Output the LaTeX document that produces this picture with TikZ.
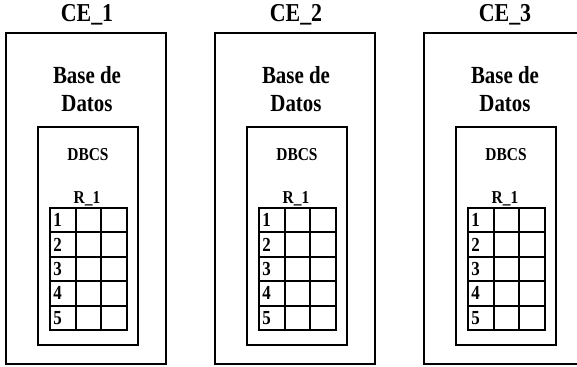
\documentclass[tikz,border=0pt]{standalone}
\usepackage{fontspec}
\setmainfont{Liberation Serif}
\newfontfamily\narrowserif[FakeStretch=0.85]{Liberation Serif}
\usetikzlibrary{positioning}

\begin{document}
\begin{tikzpicture}[
x=0.03cm, y=-0.03cm,
font=\narrowserif\bfseries,
cetitle/.style={font=\narrowserif\bfseries\fontsize{22}{24}\selectfont},
dbtext/.style={font=\narrowserif\bfseries\fontsize{21}{23.5}\selectfont, align=center},
smalltext/.style={font=\narrowserif\bfseries\fontsize{15.5}{17}\selectfont, inner sep=1pt},
digit/.style={font=\narrowserif\bfseries\fontsize{17}{18}\selectfont, inner sep=1pt, anchor=west},
site/.style={line width=1.1pt},
table/.style={line width=1.6pt}
]
    \useasboundingbox (0,0) rectangle (577,367);

    \foreach \i/\x in {1/6,2/215,3/424}{
    % Draw site box
    \node[cetitle] (ce\i) at (\x+81,15) {CE\_\i};
    \draw[site] (\x,33) rectangle (\x+160,364);
    \node[dbtext] (bd\i) at (\x+81,89) {Base de\\Datos};

    % Draw DBCS box
    \draw[site] (\x+32,127) rectangle (\x+132,345);
    \node[smalltext] (dbcs\i) at (\x+82,155) {DBCS};
    \node[smalltext] (r\i) at (\x+81,199) {R\_1};

    % Draw table
    \draw[table] (\x+44,208) rectangle (\x+121,330);
    \draw[table] (\x+70,208) -- (\x+70,330);
    \draw[table] (\x+95,208) -- (\x+95,330);
    \foreach \k in {1,...,4}
        \draw[table] (\x+44,208+24.4*\k) -- (\x+121,208+24.4*\k);
    \foreach \k in {1,...,5}
        \node[digit] (n\i\k) at (\x+46,208+24.4*\k-12.2) {\k};
    }

\end{tikzpicture}
\end{document}
